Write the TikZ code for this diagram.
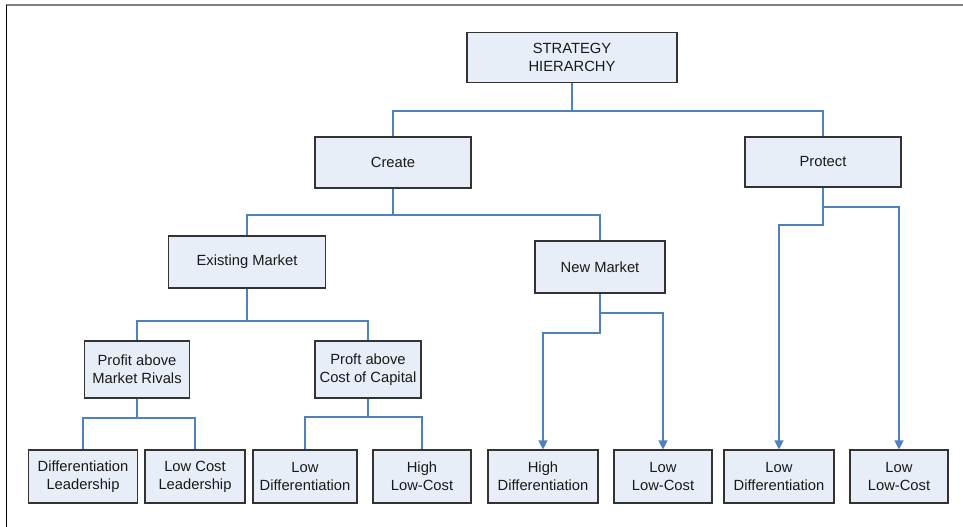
\documentclass[tikz,border=0pt]{standalone}
\usepackage{fontspec}
\setmainfont{Liberation Sans}
\usetikzlibrary{arrows.meta}
\definecolor{boxfill}{HTML}{E8EEF7}
\definecolor{boxline}{HTML}{333333}
\definecolor{linkblue}{HTML}{4F81BD}
\definecolor{framegrey}{HTML}{808080}
\begin{document}
\begin{tikzpicture}[x=1bp,y=-1bp,
  box/.style={draw=boxline, fill=boxfill, line width=1.1bp, inner sep=0pt,
    align=center, text=black!90, font=\fontsize{14.8}{18}\selectfont},
  link/.style={draw=linkblue, line width=1.1bp},
  arrowlink/.style={link, -{Triangle[width=9bp,length=9bp]}}]
\useasboundingbox (0,0) rectangle (963,527);
% page frame: top and left rules
\draw[framegrey, line width=1.3bp] (6,5) -- (963,5);
\draw[black, line width=1.1bp] (6.5,5) -- (6.5,527);

% boxes
\node[box, minimum width=210bp, minimum height=50bp] (root) at (572,57.5) {STRATEGY\\HIERARCHY};
\node[box, minimum width=156bp, minimum height=51bp] (create) at (393,162.5) {Create};
\node[box, minimum width=156bp, minimum height=50bp] (protect) at (823,162) {Protect};
\node[box, minimum width=157bp, minimum height=52bp] (exist) at (247,262) {Existing Market};
\node[box, minimum width=130bp, minimum height=52bp] (newm) at (600,267) {New Market};
\node[box, minimum width=105bp, minimum height=57bp] (rivals) at (137,369.5) {Profit above\\Market Rivals};
\node[box, minimum width=106bp, minimum height=57bp] (capital) at (368,369.5) {Proft above\\Cost of Capital};
\node[box, minimum width=109bp, minimum height=53bp] (b1) at (83,476.5) {Differentiation\\Leadership};
\node[box, minimum width=100bp, minimum height=53bp] (b2) at (195,476.5) {Low Cost\\Leadership};
\node[box, minimum width=104bp, minimum height=53bp] (b3) at (305,476.5) {Low\\Differentiation};
\node[box, minimum width=98bp, minimum height=53bp] (b4) at (422,476.5) {High\\Low-Cost};
\node[box, minimum width=110bp, minimum height=53bp] (b5) at (543,476.5) {High\\Differentiation};
\node[box, minimum width=98bp, minimum height=53bp] (b6) at (663,476.5) {Low\\Low-Cost};
\node[box, minimum width=110bp, minimum height=53bp] (b7) at (779,476.5) {Low\\Differentiation};
\node[box, minimum width=98bp, minimum height=53bp] (b8) at (899,476.5) {Low\\Low-Cost};

% heights of the horizontal runs
\coordinate (busroot) at (0,111);
\coordinate (buscreate) at (0,215);
\coordinate (busexist) at (0,321);
\coordinate (busrivals) at (0,418);
\coordinate (buscapital) at (0,417);
\coordinate (busnewA) at (0,313);
\coordinate (busnewB) at (0,333);
\coordinate (busprotA) at (0,207);
\coordinate (busprotB) at (0,225);

% tree connectors
\draw[link] (root.south) -- (root.south |- busroot) -| (create.north);
\draw[link] (root.south) -- (root.south |- busroot) -| (protect.north);
\draw[link] (create.south) -- (create.south |- buscreate) -| (exist.north);
\draw[link] (create.south) -- (create.south |- buscreate) -| (newm.north);
\draw[link] (exist.south) -- (exist.south |- busexist) -| (rivals.north);
\draw[link] (exist.south) -- (exist.south |- busexist) -| (capital.north);
\draw[link] (rivals.south) -- (rivals.south |- busrivals) -| (b1.north);
\draw[link] (rivals.south) -- (rivals.south |- busrivals) -| (b2.north);
\draw[link] (capital.south) -- (capital.south |- buscapital) -| (b3.north);
\draw[link] (capital.south) -- (capital.south |- buscapital) -| (b4.north);

% arrowed connectors
\draw[arrowlink] (newm.south) -- (newm.south |- busnewB) -| (b5.north);
\draw[arrowlink] (newm.south) -- (newm.south |- busnewA) -| (b6.north);
\draw[arrowlink] (protect.south) -- (protect.south |- busprotB) -| (b7.north);
\draw[arrowlink] (protect.south) -- (protect.south |- busprotA) -| (b8.north);
\end{tikzpicture}
\end{document}
